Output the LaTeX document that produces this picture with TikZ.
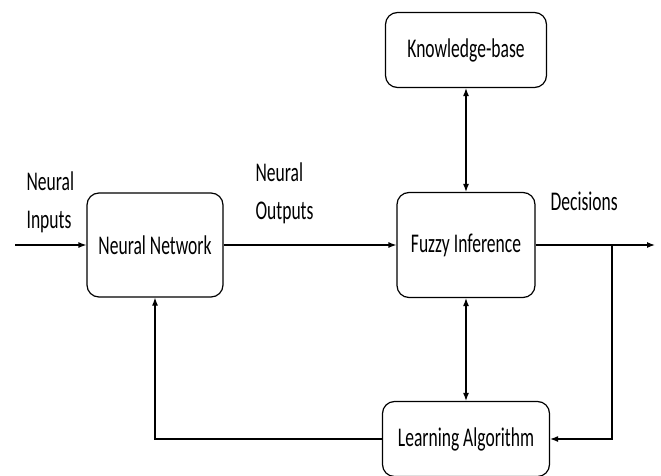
\documentclass[tikz,border=0pt]{standalone}
\usepackage{fontspec}
\setmainfont[FakeStretch=0.65]{Carlito}
\usepackage{tikz}
\usetikzlibrary{arrows.meta}
\newcommand{\labelfont}{\fontsize{27}{38}\selectfont}

\begin{document}
\begin{tikzpicture}[x=1pt, y=1pt, line width=1.2pt,
  every node/.style={font=\labelfont},
  block/.style={draw=black, rounded corners=12pt, inner sep=0pt, align=center},
  arr/.style={-{Latex[length=8pt,width=6pt]}},
  darr/.style={{Latex[length=8pt,width=6pt]}-{Latex[length=8pt,width=6pt]}}]
\useasboundingbox (0,0) rectangle (661,475);
% Blocks
\node[block, minimum width=136pt, minimum height=104pt] (nn) at (155, 230) {Neural Network};
\node[block, minimum width=138pt, minimum height=105pt] (fi) at (466, 230) {Fuzzy Inference};
\node[block, minimum width=161pt, minimum height=75pt] (kb) at (466, 425) {Knowledge-base};
\node[block, minimum width=167pt, minimum height=75pt] (la) at (466, 36) {Learning Algorithm};
% Labels
\node[anchor=north west, align=left, inner sep=0pt] (inlbl) at (26, 304) {Neural\\Inputs};
\node[anchor=north west, align=left, inner sep=0pt] (outlbl) at (255, 313) {Neural\\Outputs};
\node[anchor=north west, inner sep=0pt] (declbl) at (550, 284) {Decisions};
% Connectors
\coordinate (in) at (15, 230);
\coordinate (out) at (655, 230);
\coordinate (br) at (612, 230);
\draw[arr] (in) -- (nn);
\draw[arr] (nn) -- (fi);
\draw[arr] (fi) -- (out);
\draw[arr] (br) |- (la);
\draw[arr] (la) -| (nn);
\draw[darr] (kb) -- (fi);
\draw[darr] (fi) -- (la);
\end{tikzpicture}
\end{document}
